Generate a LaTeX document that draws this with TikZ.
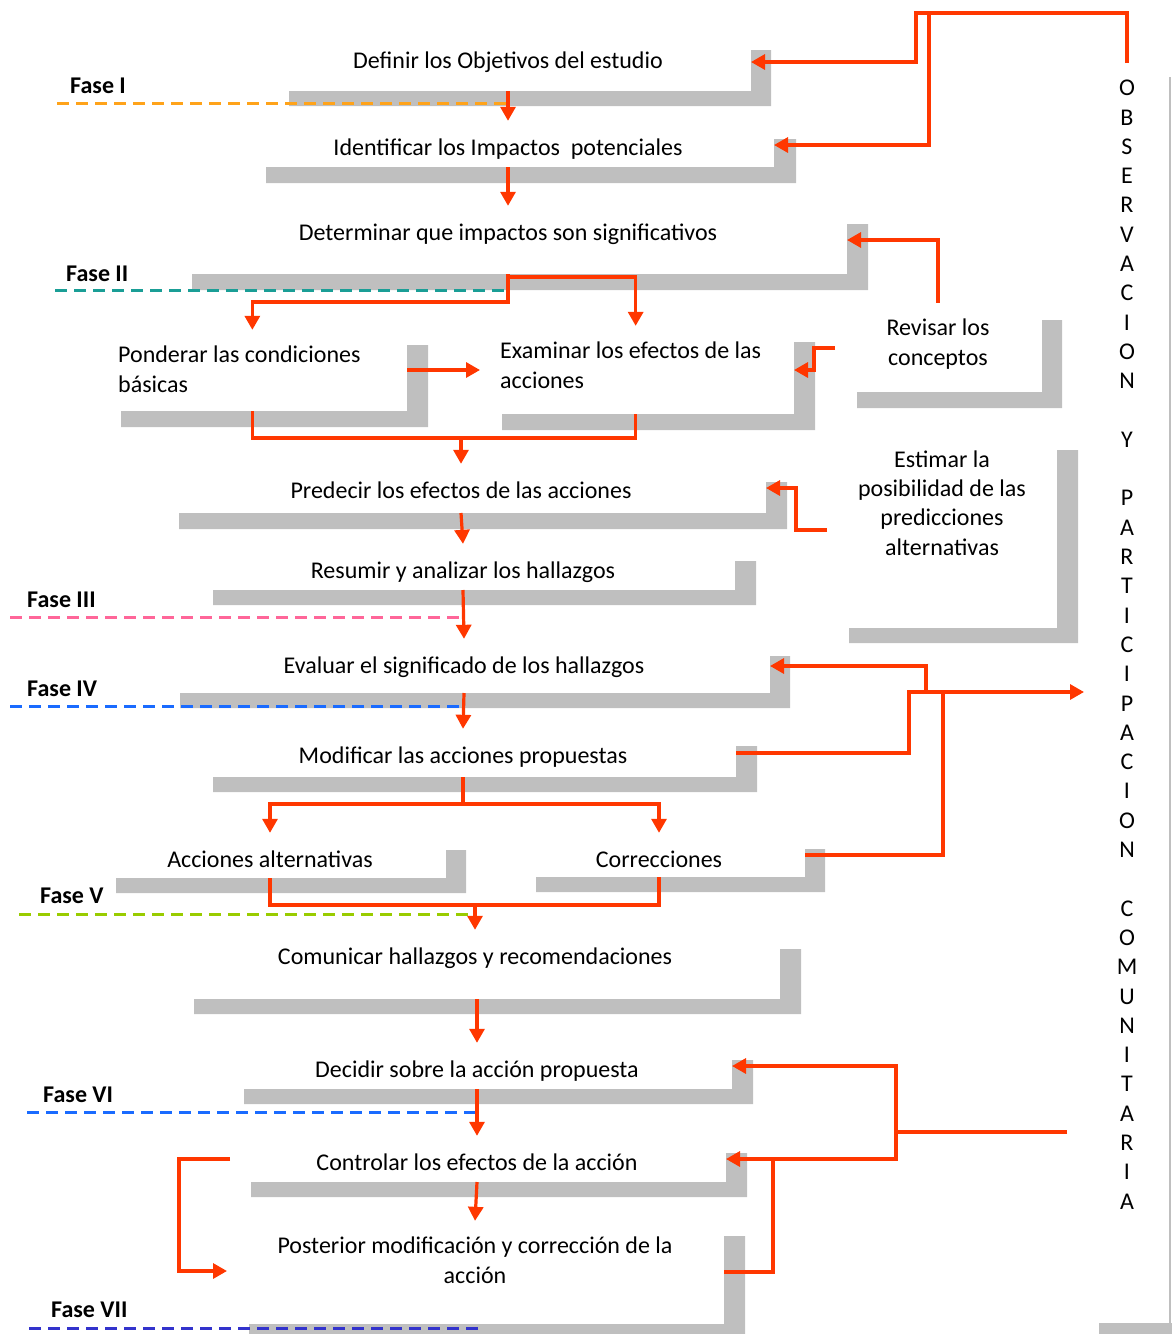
\documentclass[tikz,border=0pt]{standalone}
\usepackage{fontspec}
\setmainfont{Carlito}
\usetikzlibrary{arrows.meta, positioning}

\definecolor{gris}{RGB}{191,191,191}
\definecolor{rojo}{RGB}{255,55,0}
\definecolor{naranja}{RGB}{255,163,26}
\definecolor{verdeazul}{RGB}{26,158,150}
\definecolor{rosa}{RGB}{255,102,153}
\definecolor{azul}{RGB}{26,107,255}
\definecolor{verde}{RGB}{153,204,0}
\definecolor{indigo}{RGB}{51,51,204}

\begin{document}
\begin{tikzpicture}[x=1pt,y=-1pt,
    paso/.style={font=\fontsize{24}{29.3}\selectfont, inner sep=0pt, text height=34pt, text depth=8pt, anchor=base},
    bloque/.style={font=\fontsize{24}{29.3}\selectfont, inner xsep=0pt, inner ysep=16pt},
    fase/.style={font=\fontsize{24}{29.3}\selectfont\bfseries, inner sep=0pt, anchor=base west},
    flecha/.style={draw=rojo, line width=3.2pt, -{Triangle[length=14pt,width=15pt]}},
    linea/.style={draw=rojo, line width=3.2pt},
    corte/.style={line width=3pt, dash pattern=on 12pt off 7pt}]

\useasboundingbox (0,0) rectangle (1172,1334);

% Gray frames
\fill[gris] (289,91) coordinate (b1) rectangle (771,106) (751,50) coordinate (v1) rectangle (771,106);
\fill[gris] (266,167) coordinate (b2) rectangle (796,183) (774,139) coordinate (v2) rectangle (796,183);
\fill[gris] (192,274) coordinate (b3) rectangle (868,290) (847,224) coordinate (v3) rectangle (868,290);
\fill[gris] (121,411) coordinate (b4a) rectangle (428,427) (407,345) coordinate (v4a) rectangle (428,427);
\fill[gris] (502,414) coordinate (b4b) rectangle (815,430) (794,342) coordinate (v4b) rectangle (815,430);
\fill[gris] (857,392) rectangle (1062,408) (1042,320) rectangle (1062,408);
\fill[gris] (849,628) rectangle (1078,643) (1057,450) rectangle (1078,643);
\fill[gris] (179,513) coordinate (b5) rectangle (787,529) (766,482) coordinate (v5) rectangle (787,529);
\fill[gris] (213,590) coordinate (b6) rectangle (756,605) (735,561) rectangle (756,605);
\fill[gris] (180,693) coordinate (b7) rectangle (790,708) (770,656) coordinate (v7) rectangle (790,708);
\fill[gris] (213,777) coordinate (b8) rectangle (757,792) (736,746) coordinate (v8) rectangle (757,792);
\fill[gris] (116,878) coordinate (b9a) rectangle (466,893) (446,850) rectangle (466,893);
\fill[gris] (536,877) coordinate (b9b) rectangle (825,892) (805,849) coordinate (v9b) rectangle (825,892);
\fill[gris] (194,999) coordinate (b10) rectangle (801,1014) (780,949) rectangle (801,1014);
\fill[gris] (244,1089) coordinate (b11) rectangle (753,1104) (732,1060) coordinate (v11) rectangle (753,1104);
\fill[gris] (251,1182) coordinate (b12) rectangle (747,1197) (726,1153) coordinate (v12) rectangle (747,1197);
\fill[gris] (249,1324) rectangle (745,1340) (724,1236) coordinate (v13) rectangle (745,1340);
\fill[gris] (1099,1323) rectangle (1180,1340);
\draw[gris, line width=2pt] (1169.5,77) -- (1169.5,1323);

% Steps
\node[paso] (t1) at (508,68) {Definir los Objetivos del estudio};
\node[paso] (t2) at (508,155) {Identificar los Impactos\ \ potenciales};
\node[paso] (t3) at (508,240) {Determinar que impactos son significativos};
\node[bloque, align=left, anchor=base west] (t4a) at (118,392) {Ponderar las condiciones\\básicas};
\node[bloque, align=left, anchor=base west] (t4b) at (500,388) {Examinar los efectos de las\\acciones};
\node[bloque, align=center, anchor=base] (rev) at (938,365) {Revisar los\\conceptos};
\node[bloque, align=center, anchor=base] (est) at (942,555) {Estimar la\\posibilidad de las\\predicciones\\alternativas};
\node[paso] (t5) at (461,498) {Predecir los efectos de las acciones};
\node[paso] (t6) at (463,578) {Resumir y analizar los hallazgos};
\node[paso] (t7) at (464,673) {Evaluar el significado de los hallazgos};
\node[paso] (t8) at (463,763) {Modificar las acciones propuestas};
\node[paso] (t9a) at (270,867) {Acciones alternativas};
\node[paso] (t9b) at (659,867) {Correcciones};
\node[paso] (t10) at (475,964) {Comunicar hallazgos y recomendaciones};
\node[paso] (t11) at (477,1077) {Decidir sobre la acción propuesta};
\node[paso] (t12) at (477,1170) {Controlar los efectos de la acción};
\node[bloque, align=center, anchor=base] (t13) at (475,1283) {Posterior modificación y corrección de la\\acción};

% Column
\node[bloque, inner sep=0pt, align=center, anchor=north] (obs) at (1127,80) {O\\B\\S\\E\\R\\V\\A\\C\\I\\O\\N\\{}\\Y\\{}\\P\\A\\R\\T\\I\\C\\I\\P\\A\\C\\I\\O\\N\\{}\\C\\O\\M\\U\\N\\I\\T\\A\\R\\I\\A};

% Phases
\node[fase] (f1) at (70,93) {Fase I};
\node[fase] (f2) at (66,281) {Fase II};
\node[fase] (f3) at (27,607) {Fase III};
\node[fase] (f4) at (27,696) {Fase IV};
\node[fase] (f5) at (40,903) {Fase V};
\node[fase] (f6) at (43,1102) {Fase VI};
\node[fase] (f7) at (51,1317) {Fase VII};

\draw[corte, naranja] (57,103) -- (509,103);
\draw[corte, verdeazul] (55,290) -- (509,290);
\draw[corte, rosa] (10,617) -- (464,617);
\draw[corte, azul] (10,706) -- (464,706);
\draw[corte, verde] (19,914) -- (475,914);
\draw[corte, azul] (27,1112) -- (480,1112);
\draw[corte, indigo] (29,1328) -- (482,1328);

% Arrows
\draw[flecha] ([yshift=17pt]obs.north) |- (916,13) -- (916,62) -- (v1 |- 0,62);
\draw[flecha] (929,13) -- (929,145) -- (v2 |- 0,145);
\draw[flecha] (t1 |- b1) -- (t2.north);
\draw[flecha] (t2 |- b2) -- (t3.north);
\draw[flecha] (rev.north) |- (v3 |- t3.base);
\draw[flecha] (t3 |- b3) -- ++(0,28) -| ([xshift=13pt]t4a.north);
\draw[flecha] (t3 |- b3) -- ++(0,3) -| ([xshift=5pt]t4b.north);
\draw[flecha] (v4a |- 0,370) -- ([xshift=-20pt]t4b.west |- 0,370);
\draw[flecha] (835,348) -- (814,348) -- (814,370) -- (v4b |- 0,370);
\draw[linea] ([xshift=13pt]t4a.north |- b4a) -- ++(0,27) coordinate (m1) -| ([xshift=5pt]t4b.north |- b4b);
\draw[flecha] (t5 |- m1) -- (t5.north);
\draw[flecha] (827,530) -- (796,530) -- (796,488) -- (v5 |- 0,488);
\draw[flecha] (t5 |- b5) -- (t6.north);
\draw[flecha] (t6 |- b6) -- (t7.north);
\draw[flecha] (926,692) -- (926,666) -- (v7 |- 0,666);
\draw[flecha] (v8 |- 0,753) -- (909,753) -- (909,692) -- (1084,692);
\draw[linea] (v9b |- 0,855) -- (943,855) -- (943,692);
\draw[flecha] (t7 |- b7) -- (t8.north);
\draw[flecha] (t8 |- b8) -- ++(0,27) coordinate (m2) -| (t9a.north);
\draw[flecha] (m2) -| (t9b.north);
\draw[linea] (t9a |- b9a) -- ++(0,27) coordinate (m3) -| (t9b |- b9b);
\draw[flecha] (t10 |- m3) -- (t10.north);
\draw[flecha] (t11 |- b10) -- (t11.north);
\draw[flecha] (t11 |- b11) -- (t12.north);
\draw[flecha] (t12 |- b12) -- (t13.north);
\draw[flecha] (1067,1132) -- (896,1132) |- (v11 |- 0,1066);
\draw[flecha] (896,1132) |- (v12 |- 0,1159);
\draw[linea] (v13 |- 0,1272) -- (773,1272) -- (773,1159);
\draw[flecha] (230,1159) -- (179,1159) -- (179,1271) -- (227,1271);

\end{tikzpicture}
\end{document}
